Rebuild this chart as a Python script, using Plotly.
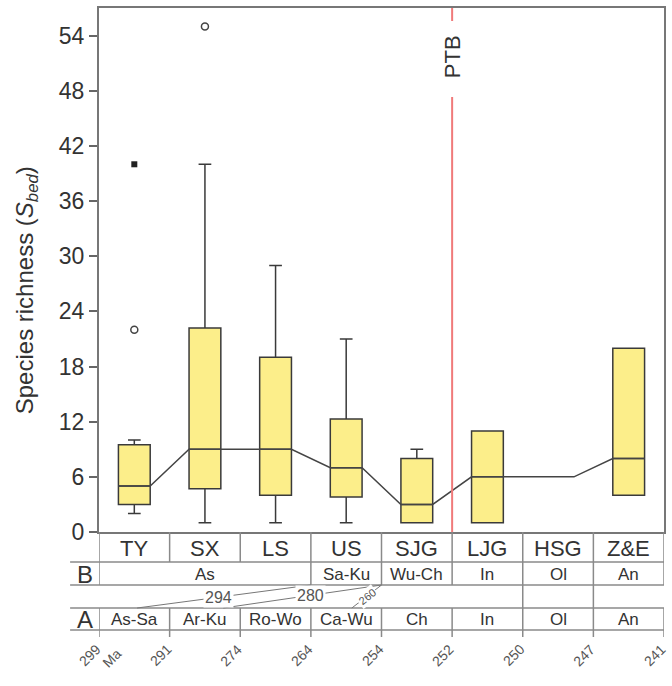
import plotly.graph_objects as go

# ---- data -------------------------------------------------------------
sections = ["TY", "SX", "LS", "US", "SJG", "LJG", "HSG", "Z&E"]
q1 = [3, 4.7, 4, 3.8, 1, 1, None, 4]
median = [5, 9, 9, 7, 3, 6, 6, 8]
q3 = [9.5, 22.2, 19, 12.3, 8, 11, None, 20]
lower_fence = [2, 1, 1, 1, 1, 1, None, 4]
upper_fence = [10, 40, 29, 21, 9, 11, None, 20]

outlier_section = ["TY", "SX"]
outlier_value = [22, 55]
extreme_section = ["TY"]
extreme_value = [40]

# stage row B (label, first column, last column)
row_b = [("As", 0, 2), ("Sa-Ku", 3, 3), ("Wu-Ch", 4, 4), ("In", 5, 5), ("Ol", 6, 6), ("An", 7, 7)]
# stage row A, one per column
row_a = ["As-Sa", "Ar-Ku", "Ro-Wo", "Ca-Wu", "Ch", "In", "Ol", "An"]
# ages (Ma) at column boundaries
ages = ["299", "291", "274", "264", "254", "252", "250", "247", "241"]
# correlation ties between the two stage rows: label, x on row A, x on row B
ties = [("294", 0.04, 2.5), ("280", 1.26, 3.5), ("260", 3.08, 3.5)]

y_ticks = list(range(0, 55, 6))

# ---- layout constants ------------------------------------------------
FONT = "Liberation Sans, Arial, sans-serif"
TXT = "#333333"
GRID = "#8a8a8a"
L, R, TOP, BOT = 99, 666, 8, 532
BOX_W = 0.45


def yp(p):
    """pixel row -> paper y"""
    return (BOT - p) / (BOT - TOP)


def xp(p):
    """pixel column -> paper x"""
    return (p - L) / (R - L)


n = len(sections)
pos = list(range(n))
idx = {s: i for i, s in enumerate(sections)}

fig = go.Figure()

# boxes
bx = [i for i in pos if q1[i] is not None]
fig.add_trace(go.Box(
    x=bx,
    q1=[q1[i] for i in bx],
    median=[median[i] for i in bx],
    q3=[q3[i] for i in bx],
    lowerfence=[lower_fence[i] for i in bx],
    upperfence=[upper_fence[i] for i in bx],
    width=BOX_W,
    whiskerwidth=0.4,
    fillcolor="#fcee8a",
    line=dict(color="#3a3a3a", width=1.5),
    boxpoints=False,
    hoverinfo="skip",
    showlegend=False,
))

# median trend line joining the box edges
lx, ly = [], []
for i in pos:
    lx += [i - BOX_W / 2, i + BOX_W / 2]
    ly += [median[i], median[i]]
fig.add_trace(go.Scatter(x=lx, y=ly, mode="lines",
                         line=dict(color="#444444", width=1.5),
                         hoverinfo="skip", showlegend=False))

# outliers
fig.add_trace(go.Scatter(x=[idx[s] for s in outlier_section], y=outlier_value,
                         mode="markers",
                         marker=dict(symbol="circle-open", size=7, color="#444444",
                                     line=dict(width=1.5)),
                         hoverinfo="skip", showlegend=False))
fig.add_trace(go.Scatter(x=[idx[s] for s in extreme_section], y=extreme_value,
                         mode="markers",
                         marker=dict(symbol="square", size=6, color="#222222"),
                         hoverinfo="skip", showlegend=False))

shapes = []
ann = []


def hline(p, x0=L, x1=R, color=GRID, w=1.5):
    shapes.append(dict(type="line", xref="paper", yref="paper",
                       x0=xp(x0), x1=xp(x1), y0=yp(p), y1=yp(p),
                       line=dict(color=color, width=w)))


def vline(x, p0, p1, color=GRID, w=1.5):
    shapes.append(dict(type="line", xref="x", yref="paper",
                       x0=x, x1=x, y0=yp(p0), y1=yp(p1),
                       line=dict(color=color, width=w)))


def text(x, p, s, size, xref="x", angle=0, color=TXT, bg=None):
    a = dict(x=x, y=yp(p), xref=xref, yref="paper", text=s, showarrow=False,
             textangle=angle, font=dict(family=FONT, size=size, color=color),
             xanchor="center", yanchor="middle")
    if bg:
        a["bgcolor"] = bg
        a["borderpad"] = 1
    ann.append(a)


# PTB boundary
PTB_X = 4.5
vline(PTB_X, TOP, 21, color="#f07a7a", w=2)
vline(PTB_X, 97, BOT, color="#f07a7a", w=2)
text(PTB_X, 57, "PTB", 22, angle=-90)

# table frame
ROW_N = (BOT, 562)
ROW_B = (562, 585)
ROW_A = (608, 630)
for p in (562, 585, 608, 630):
    hline(p, x0=70)
vline(-0.5, BOT, 585)
vline(n - 0.5, BOT, 585)
vline(-0.5, 608, 637)
vline(n - 0.5, 608, 637)
for i in range(n - 1):
    vline(i + 0.5, *ROW_N)
    vline(i + 0.5, *ROW_A)
    vline(i + 0.5, 630, 637)
for lab, a, b in row_b[:-1]:
    vline(b + 0.5, *ROW_B)
for i in (5.5, 6.5):
    vline(i, 585, 608)

# section names
for i, s in enumerate(sections):
    text(i, 548, s, 22)
# row B
for lab, a, b in row_b:
    text((a + b) / 2, 574, lab, 17)
# row A
for i, s in enumerate(row_a):
    text(i, 619.5, s, 17)
# row letters
text(xp(84.5), 574, "B", 24, xref="paper")
text(xp(84.5), 619, "A", 24, xref="paper")

# ages along the base
for k, a in enumerate(ages):
    x = k - 0.5
    xpix = L + (x + 0.5) * (R - L) / n
    text(xp(xpix - 9), 655, a, 14, xref="paper", angle=-45, color="#555555")
text(xp(112), 658, "Ma", 14, xref="paper", angle=-45, color="#555555")

# correlation ties
for lab, xa, xb in ties:
    shapes.append(dict(type="line", xref="x", yref="paper",
                       x0=xa, x1=xb, y0=yp(ROW_A[0]), y1=yp(ROW_B[1]),
                       line=dict(color="#777777", width=1)))
t_pos = {"294": 0.47, "280": 0.55, "260": 0.5}
for lab, xa, xb in ties:
    t = t_pos[lab]
    xm = xa + (xb - xa) * t
    pm = ROW_A[0] + (ROW_B[1] - ROW_A[0]) * t
    if lab == "260":
        text(xm, pm, lab, 11, angle=-38, color="#555555", bg="white")
    else:
        text(xm, pm, lab, 16, color="#555555", bg="white")

# y-axis title
ann.append(dict(x=xp(26), y=yp(290), xref="paper", yref="paper",
                text="Species richness (<i>S</i><sub><i>bed</i></sub>)",
                showarrow=False, textangle=-90,
                font=dict(family=FONT, size=24, color=TXT),
                xanchor="center", yanchor="middle"))

fig.update_layout(
    width=672, height=686, autosize=False,
    margin=dict(l=L, r=672 - R, t=TOP, b=686 - BOT),
    plot_bgcolor="white", paper_bgcolor="white",
    shapes=shapes, annotations=ann,
    showlegend=False,
    font=dict(family=FONT, color=TXT),
    xaxis=dict(range=[-0.5, n - 0.5], showticklabels=False, ticks="",
               showgrid=False, zeroline=False, showline=True, mirror=True,
               linecolor="#777777", linewidth=2),
    yaxis=dict(range=[0, 57], tickvals=y_ticks, ticks="outside", ticklen=8,
               tickwidth=1.5, tickcolor="#666666", showgrid=False, zeroline=False,
               showline=True, mirror=True, linecolor="#777777", linewidth=2,
               tickfont=dict(family=FONT, size=23, color=TXT)),
)

fig.write_html("out.html")
